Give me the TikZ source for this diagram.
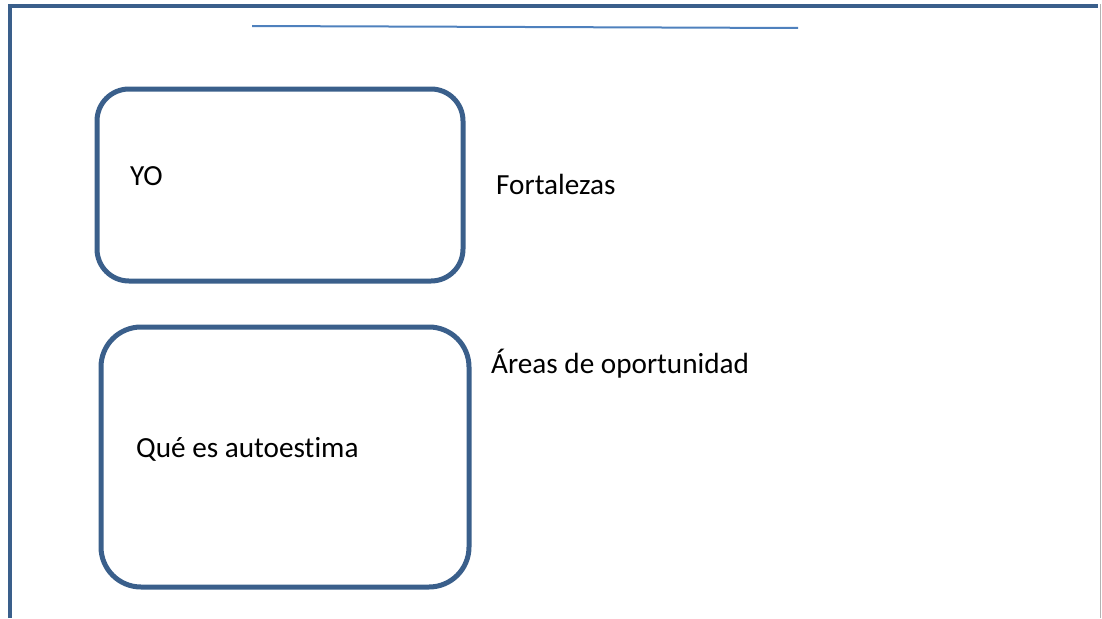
\documentclass[tikz,border=0pt]{standalone}
\usepackage{fontspec}
\setmainfont[Ligatures=NoCommon]{Carlito}
\usetikzlibrary{positioning}
\definecolor{framecol}{HTML}{3A5F8B}
\definecolor{rulecol}{HTML}{4F81BD}
\begin{document}
\begin{tikzpicture}[x=1pt, y=-1pt, font=\fontsize{29.2}{33}\selectfont,
    box/.style={draw=framecol, line width=5pt, rectangle, inner sep=0pt},
    label/.style={anchor=base west, inner sep=0pt}]
        \useasboundingbox (0,0) rectangle (1102,618);
        % Frame
        \coordinate (fbl) at (9.5,618);
        \coordinate (ftl) at (9.5,6);
        \coordinate (ftr) at (1098,6);
        \draw[framecol, line width=4pt] (fbl) -- (ftl) -- (ftr);
        \coordinate (gt) at (1100.5,4);
        \coordinate (gb) at (1100.5,618);
        \draw[black!30, line width=1.5pt] (gt) -- (gb);
        % Top rule
        \coordinate (r1) at (252,26);
        \coordinate (r2) at (798,28);
        \draw[rulecol, line width=2pt] (r1) -- (r2);
        % Boxes
        \node[box, rounded corners=32pt, minimum width=366pt, minimum height=192pt] (yo) at (280,185) {};
        \node[box, rounded corners=40pt, minimum width=368pt, minimum height=260pt] (auto) at (285,457) {};
        % Texts
        \node[label] (tyo) at (130,185) {YO};
        \node[label] (fort) at (496,194) {Fortalezas};
        \node[label] (areas) at (491,373) {Áreas de oportunidad};
        \node[label] (tauto) at (136,457) {Qué es autoestima};
\end{tikzpicture}
\end{document}
